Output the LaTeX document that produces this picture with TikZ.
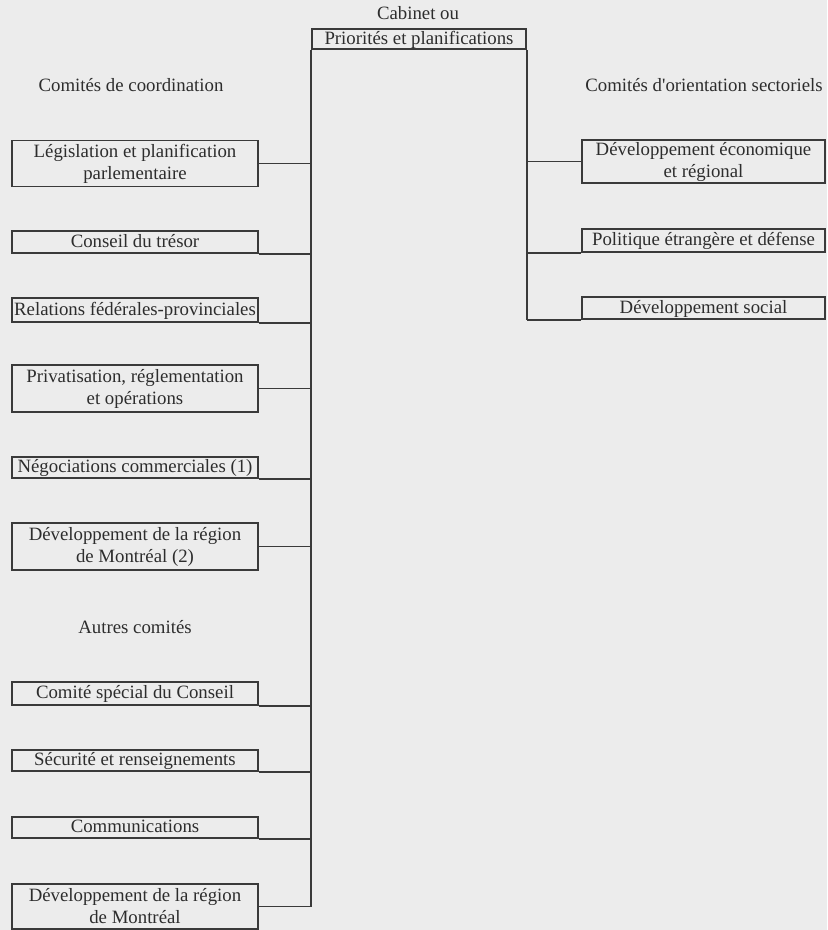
\documentclass[tikz,border=0pt]{standalone}
\usepackage{fontspec}
\setmainfont{Liberation Serif}
\usetikzlibrary{positioning}
\definecolor{orgBg}{RGB}{236,236,236}
\definecolor{orgLine}{RGB}{58,58,58}
\definecolor{orgText}{RGB}{45,45,45}

\begin{document}
\begin{tikzpicture}[
  x=0.5pt, y=-0.5pt,
  font=\fontsize{9.4}{11}\selectfont,
  box/.style={draw=orgLine, line width=0.9pt, minimum width=#1, inner sep=0pt,
    align=center, text=orgText},
  oneline/.style={text height=7pt, text depth=1.6pt},
  twoline/.style={},
  link/.style={draw=orgLine, line width=0.9pt},
  head/.style={text=orgText}
]
% page in pixel units, y downwards
\fill[orgBg] (0,0) rectangle (827,930);
\useasboundingbox (0,0) rectangle (827,930);

\node[head] (cabt) at (418,13) {Cabinet ou};
\node[box=107pt, oneline, minimum height=10pt] (cab) at (419,39) {Priorités et planifications};

\node[head] (hcoord) at (131,85) {Comités de coordination};
\node[head] (hsect) at (704,85) {Comités d\textquotesingle orientation sectoriels};
\node[head] (hautres) at (135,627) {Autres comités};

% left column
\foreach \n/\y/\h/\s/\t in {
  leg/163.5/23pt/twoline/{Législation et planification\\parlementaire},
  tresor/242/11pt/oneline/{Conseil du trésor},
  relat/310/12pt/oneline/{Relations fédérales-provinciales},
  priv/388.5/23.5pt/twoline/{Privatisation, réglementation\\et opérations},
  nego/467.5/10.5pt/oneline/{Négociations commerciales (1)},
  mtlA/546.5/23.5pt/twoline/{Développement de la région\\de Montréal (2)},
  special/693.5/11.5pt/oneline/{Comité spécial du Conseil},
  secur/760.5/10.5pt/oneline/{Sécurité et renseignements},
  comm/827.5/10.5pt/oneline/{Communications},
  mtlB/906.5/22.5pt/twoline/{Développement de la région\\de Montréal}} {
  \node[box=123pt, \s, minimum height=\h] (\n) at (135,\y) {\t};
}

% right column
\foreach \n/\y/\h/\s/\t in {
  eco/161.5/21.5pt/twoline/{Développement économique\\et régional},
  etr/240.5/11.5pt/oneline/{Politique étrangère et défense},
  social/308/11pt/oneline/{Développement social}} {
  \node[box=121.5pt, \s, minimum height=\h] (\n) at (703.5,\y) {\t};
}

% spines
\draw[link] (cab.south west) -- (cab.south west |- mtlB.east);
\draw[link] (cab.south east) -- (cab.south east |- social.south west);

% branches
\foreach \n/\a in {leg/east, tresor/south east, relat/south east, priv/east,
  nego/south east, mtlA/east, special/south east, secur/south east,
  comm/south east, mtlB/east}
  \draw[link] (\n.\a) -- (\n.\a -| cab.south west);
\foreach \n/\a in {eco/west, etr/south west, social/south west}
  \draw[link] (\n.\a) -- (\n.\a -| cab.south east);
\end{tikzpicture}
\end{document}
